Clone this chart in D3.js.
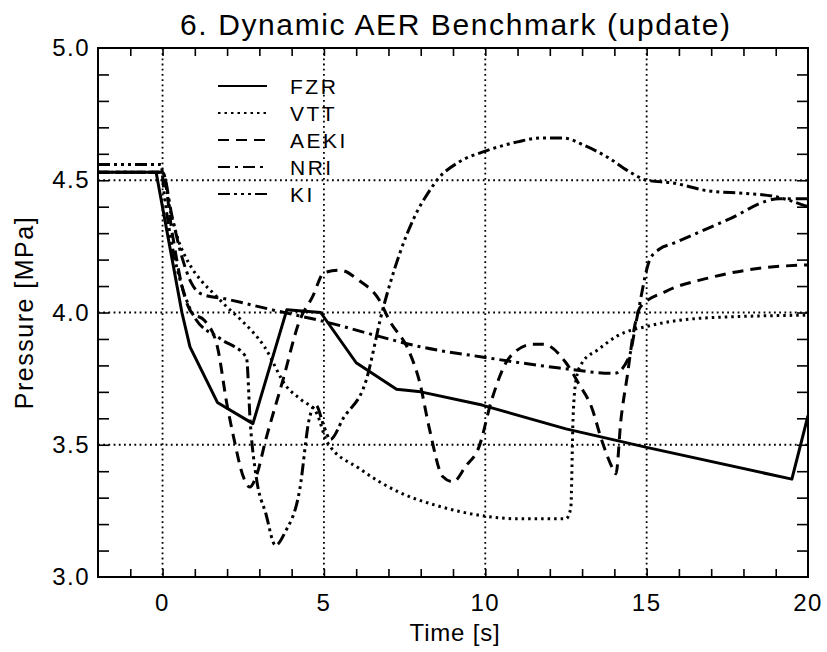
<!DOCTYPE html>
<html>
<head>
<meta charset="utf-8">
<script src="https://cdn.jsdelivr.net/npm/d3@7"></script>
<style>
  html, body { margin: 0; padding: 0; background: #fff; }
  svg { display: block; font-family: "Liberation Sans", Arial, sans-serif; }
</style>
</head>
<body>
<svg id="chart" width="827" height="652"></svg>
<script>
// Dynamic AER benchmark: pressure traces

const seriesNames = ['FZR', 'VTT', 'AEKI', 'NRI', 'KI'];

// [time s, pressure MPa]
const fzr = [[-2, 4.53], [-0.2, 4.53], [0.6, 4.0], [0.85, 3.87], [1.7, 3.66], [2.8, 3.58],
  [3.85, 4.01], [4.9, 4.0], [6.0, 3.81], [7.25, 3.71], [8.0, 3.70], [9.9, 3.65],
  [12.5, 3.56], [15, 3.49], [19.5, 3.37], [20, 3.61]];

const vtt = [[-2, 4.53], [0, 4.53], [0.25, 4.38], [0.5, 4.27], [0.8, 4.19], [1.2, 4.12],
  [1.6, 4.07], [2.0, 4.02], [2.45, 3.97], [3.16, 3.87], [3.84, 3.72], [4.3, 3.67],
  [4.77, 3.62], [5.1, 3.51], [6.1, 3.41], [7.34, 3.32], [8.5, 3.27], [10, 3.23],
  [11, 3.22], [12.5, 3.22], [12.65, 3.26], [12.72, 3.6], [12.82, 3.75], [13.0, 3.81],
  [13.5, 3.86], [14.07, 3.91], [15.1, 3.95], [16.9, 3.98], [20, 3.99]];

const aeki = [[-2, 4.53], [0, 4.53], [0.3, 4.3], [0.6, 4.1], [0.9, 4.0], [1.3, 3.97],
  [1.7, 3.87], [2.0, 3.65], [2.2, 3.53], [2.5, 3.38], [2.7, 3.34], [2.9, 3.38],
  [3.2, 3.52], [3.72, 3.74], [4.25, 3.97], [4.65, 4.06], [5.0, 4.15], [5.5, 4.16],
  [6.1, 4.12], [6.7, 4.05], [7.03, 3.97], [7.65, 3.85], [7.96, 3.74], [8.27, 3.56],
  [8.68, 3.38], [9.0, 3.36], [9.4, 3.42], [9.8, 3.49], [10.2, 3.67], [10.75, 3.83],
  [11.47, 3.88], [11.8, 3.88], [12.5, 3.81], [12.9, 3.73], [13.3, 3.64], [13.6, 3.52],
  [13.95, 3.41], [14.05, 3.39], [14.2, 3.59], [14.4, 3.76], [14.6, 3.93], [14.8, 4.02],
  [15.6, 4.08], [16.9, 4.13], [18.7, 4.17], [20, 4.18]];

const nri = [[-2, 4.53], [0, 4.53], [0.3, 4.36], [0.6, 4.21], [0.9, 4.11], [1.2, 4.07],
  [2.0, 4.05], [3.4, 4.01], [5.2, 3.96], [6.4, 3.92], [8.0, 3.87], [10, 3.83],
  [12.3, 3.79], [14.0, 3.77], [14.45, 3.83], [14.7, 3.98], [15.1, 4.2], [15.4, 4.24],
  [15.8, 4.26], [17.5, 4.35], [19.1, 4.43], [20, 4.43]];

const ki = [[-2, 4.56], [-0.05, 4.56], [0.05, 4.45], [0.3, 4.25], [0.6, 4.1], [1.0, 3.98],
  [1.8, 3.9], [2.6, 3.83], [2.72, 3.58], [2.9, 3.38], [3.2, 3.24], [3.5, 3.12],
  [3.8, 3.17], [4.25, 3.33], [4.55, 3.6], [4.75, 3.65], [5.0, 3.57], [5.2, 3.52],
  [5.6, 3.6], [6.3, 3.74], [6.8, 4.0], [7.34, 4.22], [7.8, 4.36], [8.27, 4.46],
  [8.5, 4.5], [9.2, 4.57], [10, 4.61], [11, 4.645], [11.7, 4.66], [12.4, 4.66],
  [13.1, 4.63], [13.75, 4.59], [14.5, 4.53], [15.0, 4.5], [15.8, 4.49], [16.9, 4.46],
  [18.1, 4.45], [18.9, 4.44], [20, 4.4]];

const xTickLabels = [0, 5, 10, 15, 20];
const yTickLabels = [3.0, 3.5, 4.0, 4.5, 5.0];
const xGrid = [0, 5, 10, 15];
const yGrid = [3.5, 4.0, 4.5];

const series = [
  { name: 'FZR', data: fzr, dash: null, curve: d3.curveLinear },
  { name: 'VTT', data: vtt, dash: '2.5,4', curve: d3.curveMonotoneX },
  { name: 'AEKI', data: aeki, dash: '11,7', curve: d3.curveMonotoneX },
  { name: 'NRI', data: nri, dash: '12,5,3,5', curve: d3.curveMonotoneX },
  { name: 'KI', data: ki, dash: '12,4,3,4,3,4,3,4', curve: d3.curveMonotoneX }
];

const W = 827, H = 652;
const m = { left: 98, right: W - 808, top: 48, bottom: H - 577 };

const svg = d3.select('#chart');
svg.append('rect').attr('width', W).attr('height', H).attr('fill', '#fff');

const x = d3.scaleLinear().domain([-2, 20]).range([m.left, W - m.right]);
const y = d3.scaleLinear().domain([3, 5]).range([H - m.bottom, m.top]);

svg.append('clipPath').attr('id', 'plotClip')
  .append('rect')
  .attr('x', x(-2)).attr('y', y(5))
  .attr('width', x(20) - x(-2)).attr('height', y(3) - y(5));

// dotted grid at the major positions
const grid = svg.append('g').attr('stroke', '#000').attr('stroke-width', 1.8)
  .attr('stroke-dasharray', '1.8,3.4');
grid.selectAll('.gx').data(xGrid).join('line')
  .attr('x1', d => x(d)).attr('x2', d => x(d))
  .attr('y1', y(5)).attr('y2', y(3));
grid.selectAll('.gy').data(yGrid).join('line')
  .attr('y1', d => y(d)).attr('y2', d => y(d))
  .attr('x1', x(-2)).attr('x2', x(20));

// inward ticks on all four sides
const xMinor = d3.range(-1, 20, 1);
const yMinor = d3.range(3.1, 4.95, 0.1);
function styleAxis(g) {
  g.select('.domain').remove();
  g.selectAll('.tick line').attr('stroke', '#000').attr('stroke-width', 1.6);
  g.selectAll('.tick text').remove();
}
svg.append('g').attr('transform', `translate(0,${y(3)})`)
  .call(d3.axisBottom(x).tickValues(xMinor).tickSize(-8)).call(styleAxis);
svg.append('g').attr('transform', `translate(0,${y(5)})`)
  .call(d3.axisTop(x).tickValues(xMinor).tickSize(-8)).call(styleAxis);
svg.append('g').attr('transform', `translate(${x(-2)},0)`)
  .call(d3.axisLeft(y).tickValues(yMinor).tickSize(-11)).call(styleAxis);
svg.append('g').attr('transform', `translate(${x(20)},0)`)
  .call(d3.axisRight(y).tickValues(yMinor).tickSize(-11)).call(styleAxis);

// tick labels
svg.append('g').selectAll('text').data(xTickLabels).join('text')
  .attr('x', d => x(d)).attr('y', y(3) + 34)
  .attr('text-anchor', 'middle').attr('font-size', 24).attr('fill', '#000')
  .attr('letter-spacing', 1.5)
  .text(d => d3.format('d')(d));
svg.append('g').selectAll('text').data(yTickLabels).join('text')
  .attr('x', x(-2) - 8).attr('y', d => y(d) + 8)
  .attr('text-anchor', 'end').attr('font-size', 24).attr('fill', '#000')
  .attr('letter-spacing', 1.5)
  .text(d => d3.format('.1f')(d));

// data
const line = d3.line().x(d => x(d[0])).y(d => y(d[1]));
const plot = svg.append('g').attr('clip-path', 'url(#plotClip)');
series.forEach(s => {
  plot.append('path')
    .attr('d', line.curve(s.curve)(s.data))
    .attr('fill', 'none').attr('stroke', '#000')
    .attr('stroke-width', 3)
    .attr('stroke-linejoin', 'round')
    .attr('stroke-dasharray', s.dash);
});

// frame
svg.append('rect')
  .attr('x', x(-2)).attr('y', y(5))
  .attr('width', x(20) - x(-2)).attr('height', y(3) - y(5))
  .attr('fill', 'none').attr('stroke', '#000').attr('stroke-width', 2);

// legend
const leg = svg.append('g');
series.forEach((s, i) => {
  const ly = 86 + i * 27;
  leg.append('line')
    .attr('x1', 218).attr('x2', 267).attr('y1', ly).attr('y2', ly)
    .attr('stroke', '#000').attr('stroke-width', 2)
    .attr('stroke-dasharray', s.dash);
  leg.append('text')
    .attr('x', 290).attr('y', ly + 8)
    .attr('font-size', 21).attr('fill', '#000')
    .attr('letter-spacing', 2.5)
    .text(s.name);
});

// titles
svg.append('text')
  .attr('x', 180).attr('y', 35)
  .attr('font-size', 30).attr('fill', '#000')
  .attr('textLength', 550).attr('lengthAdjust', 'spacing')
  .text('6. Dynamic AER Benchmark (update)');
svg.append('text')
  .attr('x', 455).attr('y', 641)
  .attr('text-anchor', 'middle').attr('font-size', 24).attr('fill', '#000')
  .attr('letter-spacing', 0.8)
  .text('Time [s]');
svg.append('text')
  .attr('transform', `translate(33,${(y(3) + y(5)) / 2}) rotate(-90)`)
  .attr('text-anchor', 'middle').attr('font-size', 25).attr('fill', '#000')
  .attr('letter-spacing', 1.5)
  .text('Pressure [MPa]');
</script>
</body>
</html>
